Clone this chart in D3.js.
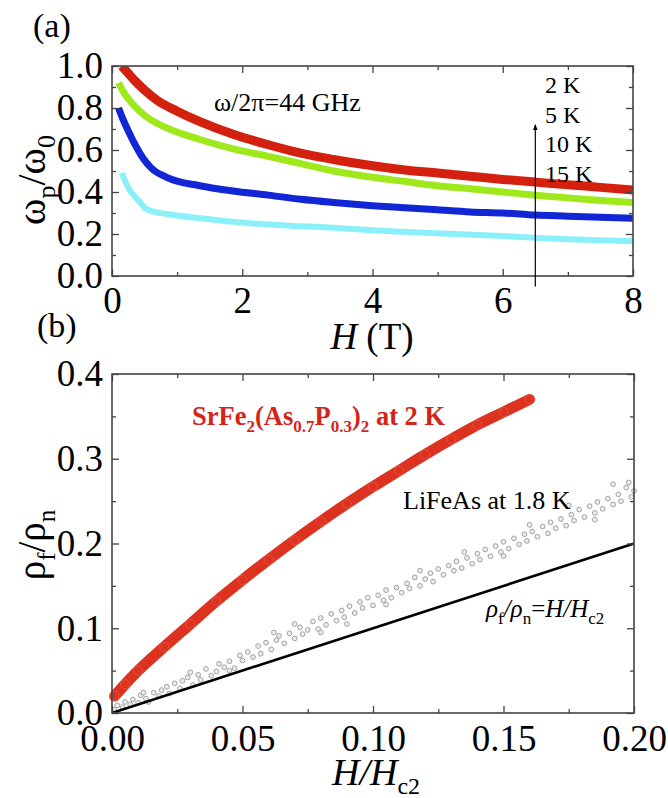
<!DOCTYPE html>
<html lang="en">
<head>
<meta charset="utf-8">
<title>omega_p and flux-flow resistivity</title>
<script src="https://cdn.jsdelivr.net/npm/d3@7"></script>
<style>
  body { margin: 0; background: #fff; }
  svg text { font-family: "Liberation Serif", "Times New Roman", Times, serif !important; }
</style>
</head>
<body>
<div id="chart"></div>
<script>
// ---- panel (a): omega_p / omega_0 vs H (T), omega/2pi = 44 GHz
var fieldRed   = [0.15, 0.25, 0.35, 0.5, 0.7, 1.0, 1.35, 1.86, 2.4, 2.9, 3.4, 4, 4.5, 5, 5.5, 6, 6.5, 7, 7.5, 8];
var wp2K       = [1.0, 0.965, 0.93, 0.885, 0.835, 0.785, 0.735, 0.675, 0.625, 0.585, 0.555, 0.525, 0.505, 0.49, 0.475, 0.46, 0.447, 0.435, 0.422, 0.41];
var fieldGreen = [0.1, 0.2, 0.33, 0.5, 0.84, 1.35, 1.86, 2.4, 2.9, 3.4, 4, 4.5, 5, 5.5, 6, 6.5, 7, 7.5, 8];
var wp5K       = [0.92, 0.865, 0.815, 0.765, 0.705, 0.65, 0.605, 0.57, 0.535, 0.50, 0.47, 0.45, 0.43, 0.415, 0.40, 0.385, 0.372, 0.36, 0.35];
var fieldBlue  = [0.1, 0.15, 0.25, 0.33, 0.48, 0.6, 0.84, 1.35, 1.86, 2.4, 2.9, 3.4, 4, 4.5, 5, 5.5, 6, 6.5, 7, 7.5, 8];
var wp10K      = [0.80, 0.76, 0.69, 0.64, 0.56, 0.515, 0.47, 0.43, 0.405, 0.385, 0.365, 0.35, 0.335, 0.325, 0.315, 0.305, 0.30, 0.29, 0.285, 0.28, 0.275];
var fieldCyan  = [0.15, 0.25, 0.33, 0.45, 0.5, 0.6, 0.84, 1.35, 1.86, 2.4, 2.9, 3.4, 4, 5, 6, 6.5, 7, 8];
var wp15K      = [0.49, 0.42, 0.385, 0.345, 0.325, 0.31, 0.295, 0.275, 0.258, 0.245, 0.237, 0.23, 0.218, 0.203, 0.19, 0.182, 0.175, 0.165];
var tempLabels = ["2 K", "5 K", "10 K", "15 K"];
var xTicksA = [0, 2, 4, 6, 8];
var xMinorA = [1, 3, 5, 7];
var yTicksA = [0, 0.2, 0.4, 0.6, 0.8, 1.0];
var yMinorA = [0.1, 0.3, 0.5, 0.7, 0.9];

// ---- panel (b): rho_f / rho_n vs H / Hc2
var hSrFe   = [0.001, 0.005, 0.01, 0.02, 0.03, 0.04, 0.05, 0.06, 0.07, 0.08, 0.09, 0.10, 0.11, 0.12, 0.13, 0.14, 0.15, 0.16];
var rhoSrFe = [0.02, 0.034, 0.05, 0.078, 0.105, 0.132, 0.157, 0.181, 0.204, 0.226, 0.247, 0.267, 0.286, 0.305, 0.323, 0.34, 0.355, 0.37];
var hLiFeAs = [0.001, 0.002, 0.004, 0.005, 0.007, 0.008, 0.010, 0.011, 0.013, 0.014, 0.016, 0.018, 0.019, 0.021, 0.022,
  0.024, 0.026, 0.027, 0.029, 0.031, 0.033, 0.034, 0.036, 0.038, 0.040, 0.041, 0.043, 0.045, 0.047, 0.049, 0.050, 0.052,
  0.054, 0.056, 0.057, 0.059, 0.061, 0.063, 0.064, 0.066, 0.068, 0.070, 0.072, 0.073, 0.075, 0.077, 0.079, 0.080, 0.082,
  0.084, 0.086, 0.088, 0.089, 0.091, 0.093, 0.095, 0.096, 0.098, 0.100, 0.102, 0.104, 0.105, 0.107, 0.109, 0.111, 0.113,
  0.114, 0.116, 0.118, 0.120, 0.122, 0.123, 0.125, 0.127, 0.129, 0.131, 0.132, 0.134, 0.136, 0.138, 0.140, 0.141, 0.143,
  0.145, 0.147, 0.149, 0.150, 0.152, 0.154, 0.156, 0.158, 0.159, 0.161, 0.163, 0.165, 0.167, 0.168, 0.170, 0.172, 0.174,
  0.176, 0.177, 0.179, 0.181, 0.183, 0.185, 0.186, 0.188, 0.190, 0.192, 0.194, 0.195, 0.197, 0.199, 0.200,
  0.012, 0.030, 0.045, 0.062, 0.070, 0.080, 0.090, 0.105, 0.118, 0.135, 0.150, 0.160, 0.175, 0.185, 0.192, 0.198];
var rhoLiFeAs = [0.004, 0.009, 0.007, 0.013, 0.010, 0.016, 0.012, 0.021, 0.017, 0.013, 0.024, 0.020, 0.027, 0.031, 0.023,
  0.035, 0.029, 0.038, 0.042, 0.033, 0.045, 0.039, 0.052, 0.044, 0.049, 0.058, 0.054, 0.061, 0.053, 0.068, 0.062, 0.072,
  0.066, 0.079, 0.070, 0.083, 0.075, 0.086, 0.091, 0.082, 0.094, 0.088, 0.101, 0.093, 0.098, 0.108, 0.099, 0.112, 0.104,
  0.117, 0.109, 0.121, 0.113, 0.126, 0.118, 0.131, 0.124, 0.136, 0.127, 0.139, 0.133, 0.145, 0.136, 0.148, 0.142, 0.153,
  0.147, 0.160, 0.150, 0.158, 0.165, 0.155, 0.170, 0.163, 0.174, 0.168, 0.179, 0.171, 0.183, 0.176, 0.188, 0.181, 0.193,
  0.185, 0.197, 0.190, 0.202, 0.194, 0.206, 0.199, 0.211, 0.203, 0.214, 0.208, 0.220, 0.212, 0.225, 0.218, 0.229, 0.221,
  0.234, 0.227, 0.240, 0.231, 0.244, 0.236, 0.249, 0.241, 0.253, 0.246, 0.258, 0.250, 0.266, 0.255, 0.262,
  0.024, 0.048, 0.050, 0.095, 0.105, 0.095, 0.105, 0.128, 0.168, 0.190, 0.185, 0.222, 0.245, 0.228, 0.270, 0.272];
var hLine = [0, 0.2];
var rhoLine = [0, 0.2];
var xTicksB = [0, 0.05, 0.10, 0.15, 0.20];
var xMinorB = [0.025, 0.075, 0.125, 0.175];
var yTicksB = [0, 0.1, 0.2, 0.3, 0.4];
var yMinorB = [0.05, 0.15, 0.25, 0.35];

var serif = "Liberation Serif, Times New Roman, serif";

var svg = d3.select("#chart").append("svg")
  .attr("width", 668)
  .attr("height", 798)
  .attr("font-family", serif);

function zip(xs, ys) { return xs.map(function (d, i) { return [d, ys[i]]; }); }

// boxed frame with inward ticks on all four sides, labels on bottom and left
function frame(x, y, xMajor, xMinor, yMajor, yMinor, xFmt, yFmt, xPad, yPad) {
  var x0 = x.range()[0], x1 = x.range()[1], y0 = y.range()[0], y1 = y.range()[1];
  var g = svg.append("g");
  var sides = [
    { make: d3.axisBottom, s: x, t: "translate(0," + y0 + ")", maj: xMajor, min: xMinor, fmt: xFmt, pad: xPad },
    { make: d3.axisTop, s: x, t: "translate(0," + y1 + ")", maj: xMajor, min: xMinor, fmt: null },
    { make: d3.axisLeft, s: y, t: "translate(" + x0 + ",0)", maj: yMajor, min: yMinor, fmt: yFmt, pad: yPad },
    { make: d3.axisRight, s: y, t: "translate(" + x1 + ",0)", maj: yMajor, min: yMinor, fmt: null }
  ];
  sides.forEach(function (o) {
    // minor ticks
    g.append("g").attr("transform", o.t)
      .call(o.make(o.s).tickValues(o.min).tickSize(-4).tickFormat(""))
      .select(".domain").remove();
    // major ticks (+ labels)
    var ga = g.append("g").attr("transform", o.t)
      .call(o.make(o.s).tickValues(o.maj).tickSize(-7).tickPadding(o.pad || 3).tickFormat(o.fmt || ""));
    ga.select(".domain").remove();
    ga.attr("font-family", serif).attr("font-size", 37);
    ga.selectAll("text").attr("fill", "#000");
  });
  g.selectAll(".tick line").attr("stroke", "#444").attr("stroke-width", 1.3);
  g.append("rect")
    .attr("x", x0).attr("y", y1)
    .attr("width", x1 - x0).attr("height", y0 - y1)
    .attr("fill", "none").attr("stroke", "#444").attr("stroke-width", 1.6);
}

// ---------------- panel (a)
var xA = d3.scaleLinear().domain([0, 8]).range([112, 633]);
var yA = d3.scaleLinear().domain([0, 1]).range([276, 66]);

svg.append("clipPath").attr("id", "clipA").append("rect")
  .attr("x", 112).attr("y", 66).attr("width", 521).attr("height", 210);

var lineA = d3.line().x(function (d) { return xA(d[0]); }).y(function (d) { return yA(d[1]); })
  .curve(d3.curveMonotoneX);

var seriesA = [
  { pts: zip(fieldCyan, wp15K), color: "#8cf0fa", w: 6 },
  { pts: zip(fieldBlue, wp10K), color: "#1226d6", w: 7 },
  { pts: zip(fieldGreen, wp5K), color: "#9fe81c", w: 7 },
  { pts: zip(fieldRed, wp2K), color: "#d4200e", w: 9 }
];
svg.append("g").attr("clip-path", "url(#clipA)")
  .selectAll("path").data(seriesA).enter().append("path")
  .attr("d", function (d) { return lineA(d.pts); })
  .attr("fill", "none")
  .attr("stroke", function (d) { return d.color; })
  .attr("stroke-width", function (d) { return d.w; })
  .attr("stroke-linejoin", "round");

frame(xA, yA, xTicksA, xMinorA, yTicksA, yMinorA, d3.format("d"), d3.format(".1f"), 11, 9);

// arrow through the temperatures
svg.append("defs").append("marker")
  .attr("id", "arr").attr("viewBox", "0 0 10 10").attr("refX", 9).attr("refY", 5)
  .attr("markerWidth", 5).attr("markerHeight", 9).attr("orient", "auto")
  .append("path").attr("d", "M0,1 L10,5 L0,9 Z").attr("fill", "#000");
svg.append("line")
  .attr("x1", xA(6.5)).attr("x2", xA(6.5))
  .attr("y1", yA(-0.05)).attr("y2", yA(0.72))
  .attr("stroke", "#000").attr("stroke-width", 1.2)
  .attr("marker-end", "url(#arr)");

svg.selectAll(".tlab").data(tempLabels).enter().append("text")
  .attr("class", "tlab")
  .attr("x", 545)
  .attr("y", function (d, i) { return 93 + i * 29.7; })
  .attr("font-size", 24)
  .text(function (d) { return d; });

svg.append("text").attr("x", 214).attr("y", 111).attr("font-size", 26)
  .text("ω/2π=44 GHz");

svg.append("text").attr("x", 33).attr("y", 37).attr("font-size", 34).text("(a)");

// axis titles (a)
var ttlA = svg.append("text").attr("x", 372).attr("y", 349).attr("text-anchor", "middle").attr("font-size", 37);
ttlA.append("tspan").attr("font-style", "italic").text("H");
ttlA.append("tspan").text(" (T)");

var ylA = svg.append("text").attr("transform", "translate(45,180) rotate(-90)")
  .attr("text-anchor", "middle").attr("font-size", 40);
ylA.append("tspan").text("ω");
ylA.append("tspan").attr("font-size", 26).attr("dy", 10).text("p");
ylA.append("tspan").attr("dy", -10).text("/ω");
ylA.append("tspan").attr("font-size", 26).attr("dy", 10).text("0");

// ---------------- panel (b)
var xB = d3.scaleLinear().domain([0, 0.2]).range([112, 634]);
var yB = d3.scaleLinear().domain([0, 0.4]).range([713, 374]);

svg.append("text").attr("x", 37).attr("y", 337).attr("font-size", 34).text("(b)");

// LiFeAs scatter
svg.append("g").selectAll("circle").data(zip(hLiFeAs, rhoLiFeAs)).enter().append("circle")
  .attr("cx", function (d) { return xB(d[0]); })
  .attr("cy", function (d) { return yB(d[1]); })
  .attr("r", 2.4)
  .attr("fill", "#ececec")
  .attr("stroke", "#a2a2a2")
  .attr("stroke-width", 1);

// black reference line rho_f/rho_n = H/Hc2
svg.append("line")
  .attr("x1", xB(hLine[0])).attr("y1", yB(rhoLine[0]))
  .attr("x2", xB(hLine[1])).attr("y2", yB(rhoLine[1]))
  .attr("stroke", "#000").attr("stroke-width", 2.6);

// SrFe2(As,P)2 band of open circles
var lineB = d3.line().x(function (d) { return xB(d[0]); }).y(function (d) { return yB(d[1]); })
  .curve(d3.curveMonotoneX);
var srPts = zip(hSrFe, rhoSrFe);
svg.append("path").attr("d", lineB(srPts))
  .attr("fill", "none").attr("stroke", "#dd3220").attr("stroke-width", 11)
  .attr("stroke-linecap", "round");
svg.append("g").selectAll("circle").data(srPts).enter().append("circle")
  .attr("cx", function (d) { return xB(d[0]); })
  .attr("cy", function (d) { return yB(d[1]); })
  .attr("r", 4.5)
  .attr("fill", "none")
  .attr("stroke", "#e8604c")
  .attr("stroke-opacity", 0.6)
  .attr("stroke-width", 1);

frame(xB, yB, xTicksB, xMinorB, yTicksB, yMinorB, d3.format(".2f"), d3.format(".1f"), 12, 9);

// annotations (b)
var srLab = svg.append("text").attr("x", 192).attr("y", 425).attr("font-size", 26.5)
  .attr("font-weight", "bold").attr("fill", "#d42418");
srLab.append("tspan").text("SrFe");
srLab.append("tspan").attr("font-size", 17).attr("dy", 7).text("2");
srLab.append("tspan").attr("dy", -7).text("(As");
srLab.append("tspan").attr("font-size", 17).attr("dy", 7).text("0.7");
srLab.append("tspan").attr("dy", -7).text("P");
srLab.append("tspan").attr("font-size", 17).attr("dy", 7).text("0.3");
srLab.append("tspan").attr("dy", -7).text(")");
srLab.append("tspan").attr("font-size", 17).attr("dy", 7).text("2");
srLab.append("tspan").attr("dy", -7).text(" at 2 K");

svg.append("text").attr("x", 403).attr("y", 509).attr("font-size", 26).text("LiFeAs at 1.8 K");

var eqLab = svg.append("text").attr("x", 486).attr("y", 617).attr("font-size", 25).attr("font-style", "italic");
eqLab.append("tspan").text("ρ");
eqLab.append("tspan").attr("font-size", 17).attr("font-style", "normal").attr("dy", 7).text("f");
eqLab.append("tspan").attr("dy", -7).text("/ρ");
eqLab.append("tspan").attr("font-size", 17).attr("font-style", "normal").attr("dy", 7).text("n");
eqLab.append("tspan").attr("dy", -7).attr("font-style", "normal").text("=");
eqLab.append("tspan").text("H/H");
eqLab.append("tspan").attr("font-size", 17).attr("font-style", "normal").attr("dy", 7).text("c2");

// axis titles (b)
var ttlB = svg.append("text").attr("x", 332).attr("y", 785).attr("font-size", 38);
ttlB.append("tspan").attr("font-style", "italic").text("H/H");
ttlB.append("tspan").attr("font-size", 24).attr("dy", 9).text("c2");

var ylB = svg.append("text").attr("transform", "translate(45,545) rotate(-90)")
  .attr("text-anchor", "middle").attr("font-size", 39);
ylB.append("tspan").text("ρ");
ylB.append("tspan").attr("font-size", 25).attr("dy", 10).text("f");
ylB.append("tspan").attr("dy", -10).text("/ρ");
ylB.append("tspan").attr("font-size", 25).attr("dy", 10).text("n");
</script>
</body>
</html>
